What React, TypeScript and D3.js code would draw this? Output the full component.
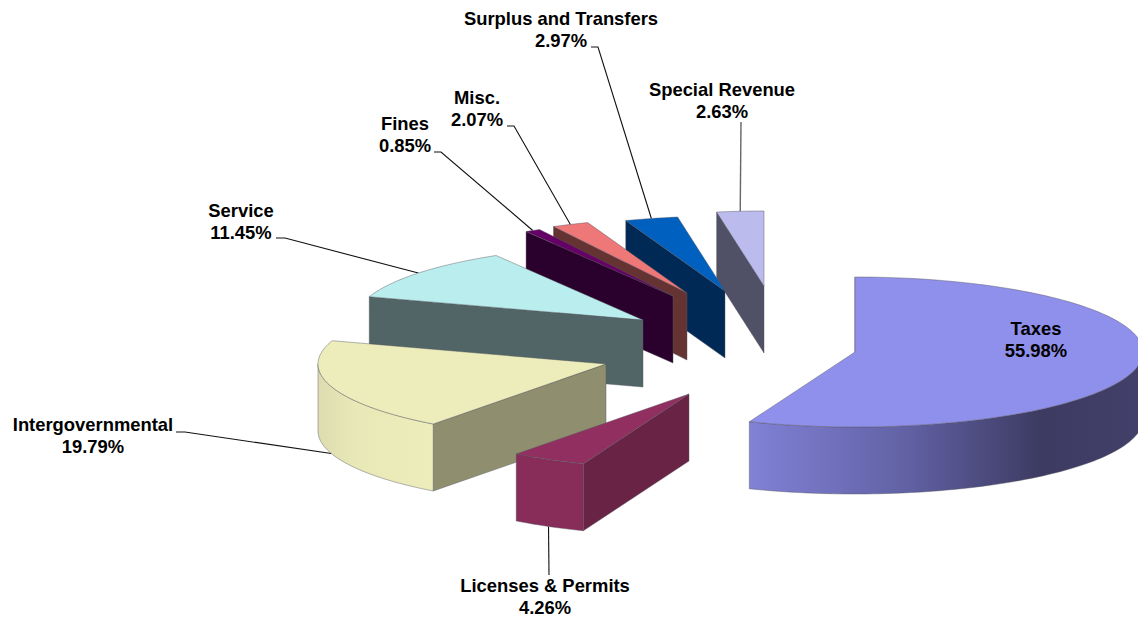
import React from "react";
import * as d3 from "d3";

// Revenue sources, clockwise from twelve o'clock.
const categories = [
  "Taxes",
  "Licenses & Permits",
  "Intergovernmental",
  "Service",
  "Fines",
  "Misc.",
  "Surplus and Transfers",
  "Special Revenue",
];
const shares = [55.98, 4.26, 19.79, 11.45, 0.85, 2.07, 2.97, 2.63];

// Slice colours: top face, cut wall, outer wall.
const topColors = ["#8f8fec", "#912f60", "#ecedbb", "#baeeee", "#660066", "#ee7777", "#0060c0", "#bbbbee"];
const cutColors = ["#45436e", "#692345", "#8f8f70", "#516566", "#2a002c", "#663333", "#002a55", "#505066"];
const rimStops: [number, string][][] = [
  [[0, "#8181d6"], [0.39, "#6262a6"], [0.74, "#3d3b62"], [1, "#42406a"]],
  [[0, "#882c5a"], [1, "#882c5a"]],
  [[0, "#dcdcb0"], [0.35, "#e9e9b8"], [1, "#ecedbb"]],
  [[0, "#516566"], [1, "#516566"]],
  [[0, "#2a002c"], [1, "#2a002c"]],
  [[0, "#663333"], [1, "#663333"]],
  [[0, "#002a55"], [1, "#002a55"]],
  [[0, "#505066"], [1, "#505066"]],
];

// How far each slice is pulled out of the pie, in screen pixels from the hub.
const explodeX = [120, -46, -129, -92, -62, -48, -10, 29];
const explodeY = [17, 59, 29, -15, -39, -42, -44, -49];

// Label placement: centre x, first baseline, optional leader elbow.
const labelX = [1036, 545, 93, 241, 405, 477, 561, 722];
const labelY = [335, 592, 431, 217, 130, 104, 25, 96];
const elbowFromX = [null, 549, 176, 276, 434, 507, 591, 741];
const elbowToX = [null, 549, 185, 285, 441, 514, 598, 741];
const elbowY = [null, 575, 432, 238, 152, 126, 47, 122];
const leaderColors = ["#000", "#111", "#111", "#111", "#111", "#111", "#111", "#666"];

const WIDTH = 1138;
const HEIGHT = 621;
const HUB_X = 735;
const HUB_Y = 335;
const DEPTH = 67;

const px = d3.scaleLinear().domain([-1, 1]).range([-288, 288]);
const py = d3.scaleLinear().domain([-1, 1]).range([-75, 75]);

const pieLayout = d3
  .pie<number>()
  .sort(null)
  .value((d) => d)
  .startAngle(0)
  .endAngle(2 * Math.PI);
const arcs = pieLayout(shares);

const line = d3.line<[number, number]>();
const pct = d3.format(".2f");

type Pt = [number, number];

function rimPoint(i: number, theta: number, drop = 0): Pt {
  return [
    HUB_X + explodeX[i] + px(Math.sin(theta)),
    HUB_Y + explodeY[i] - py(Math.cos(theta)) + drop,
  ];
}

function samples(a: number, b: number): number[] {
  const n = Math.max(2, Math.ceil(((b - a) / Math.PI) * 120));
  return d3.range(n + 1).map((k) => a + ((b - a) * k) / n);
}

export default function App() {
  // Paint from the back of the pie to the front: the last slice first, Licenses last.
  const order = [0, 7, 6, 5, 4, 3, 2, 1];
  return (
    <svg
      width={WIDTH}
      height={HEIGHT}
      viewBox={`0 0 ${WIDTH} ${HEIGHT}`}
      style={{ position: "absolute", left: 0, top: 0, display: "block", background: "#fff" }}
    >
      <defs>
        {arcs.map((arc, i) => {
          const xs = samples(arc.startAngle, arc.endAngle).map((t) => rimPoint(i, t)[0]);
          return (
            <linearGradient
              key={i}
              id={`rim-${i}`}
              gradientUnits="userSpaceOnUse"
              x1={d3.min(xs)}
              x2={d3.max(xs)}
              y1={0}
              y2={0}
            >
              {rimStops[i].map(([o, c]) => (
                <stop key={o} offset={o} stopColor={c} />
              ))}
            </linearGradient>
          );
        })}
      </defs>

      {/* Leaders sit under the slices so they stop at the slice edge */}
      {arcs.map((arc, i) => {
        if (elbowY[i] === null) return null;
        const mid = (arc.startAngle + arc.endAngle) / 2;
        const front = Math.cos(mid) < 0;
        const end = rimPoint(i, mid, front ? DEPTH : 0);
        const pts: Pt[] = [
          [elbowFromX[i] as number, elbowY[i] as number],
          [elbowToX[i] as number, elbowY[i] as number],
          end,
        ];
        return (
          <path
            key={i}
            d={line(pts) as string}
            fill="none"
            stroke={leaderColors[i]}
            strokeWidth={i === 7 ? 1.4 : 1.1}
          />
        );
      })}

      {order.map((i) => {
        const arc = arcs[i];
        const hub: Pt = [HUB_X + explodeX[i], HUB_Y + explodeY[i]];
        const startTop = rimPoint(i, arc.startAngle);
        const cutWall: Pt[] = [
          hub,
          startTop,
          [startTop[0], startTop[1] + DEPTH],
          [hub[0], hub[1] + DEPTH],
        ];
        const from = Math.max(arc.startAngle, Math.PI / 2);
        const to = Math.min(arc.endAngle, (3 * Math.PI) / 2);
        const rimVisible = to > from;
        const rimTop = rimVisible ? samples(from, to).map((t) => rimPoint(i, t)) : [];
        const rimBottom = rimVisible
          ? samples(from, to)
              .reverse()
              .map((t) => rimPoint(i, t, DEPTH))
          : [];
        const top: Pt[] = [hub, ...samples(arc.startAngle, arc.endAngle).map((t) => rimPoint(i, t))];
        return (
          <g key={i} stroke="#55555f" strokeOpacity={0.55} strokeWidth={0.8} strokeLinejoin="round">
            <path d={`${line(cutWall)}Z`} fill={cutColors[i]} />
            {rimVisible && <path d={`${line([...rimTop, ...rimBottom])}Z`} fill={`url(#rim-${i})`} />}
            <path d={`${line(top)}Z`} fill={topColors[i]} />
          </g>
        );
      })}

      {arcs.map((_, i) => (
        <text
          key={i}
          textAnchor="middle"
          fontFamily="'Liberation Sans', Arial, sans-serif"
          fontWeight={700}
          fontSize={18.4}
          fill="#000"
        >
          <tspan x={labelX[i]} y={labelY[i]}>
            {categories[i]}
          </tspan>
          <tspan x={labelX[i]} y={labelY[i] + 21.5}>
            {pct(shares[i])}%
          </tspan>
        </text>
      ))}
    </svg>
  );
}
